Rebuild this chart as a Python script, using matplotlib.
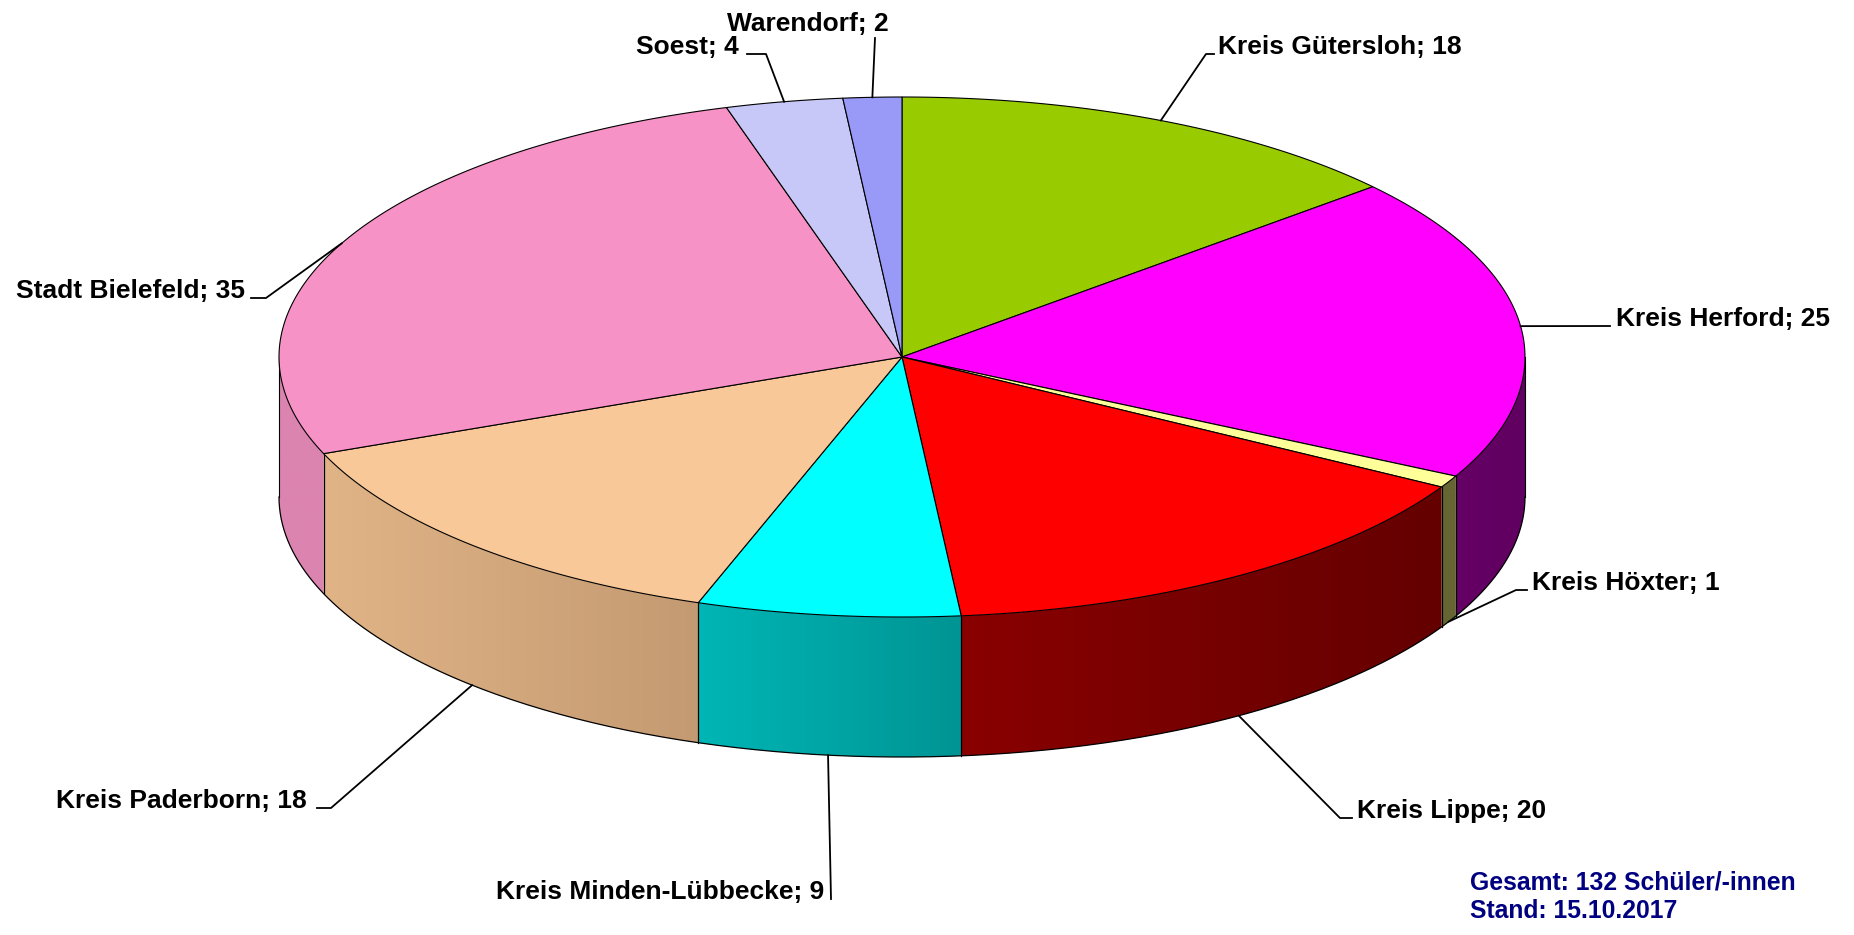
import numpy as np
import matplotlib.pyplot as plt
from matplotlib.patches import Polygon
from matplotlib.colors import to_rgb

plt.rcParams['font.family'] = ['Liberation Sans', 'DejaVu Sans']

# students per district (clockwise from 12 o'clock)
districts = ['Kreis Gütersloh', 'Kreis Herford', 'Kreis Höxter', 'Kreis Lippe',
             'Kreis Minden-Lübbecke', 'Kreis Paderborn', 'Stadt Bielefeld',
             'Soest', 'Warendorf']
students = [18, 25, 1, 20, 9, 18, 35, 4, 2]
note_lines = ['Gesamt: 132 Schüler/-innen', 'Stand: 15.10.2017']

top_colors = ['#99CC00', '#FF00FF', '#FFFF99', '#FF0000', '#00FFFF',
              '#F8C898', '#F792C6', '#C8C8F8', '#9999F8']
# wall shading: (left end, right end)
side_colors = [('#5C7A00', '#5C7A00'), ('#660066', '#600060'), ('#666633', '#666633'),
               ('#8A0000', '#640000'), ('#00B6B6', '#009494'), ('#E0B486', '#C49A72'),
               ('#DC84B0', '#DC84B0'), ('#8080A0', '#8080A0'), ('#6060A0', '#6060A0')]

# label layout: text anchor x, baseline y, ha, leader points after the anchor
labels = [
    (1218, 54, 'left', [(1206, 54), (1214, 54)]),
    (1616, 326, 'left', [(1610, 326)]),
    (1532, 590, 'left', [(1516, 590), (1527, 590)]),
    (1357, 818, 'left', [(1340, 818), (1352, 818)]),
    (824, 899, 'right', [(831, 899)]),
    (307, 808, 'right', [(331, 808), (317, 808)]),
    (245, 298, 'right', [(266, 298), (251, 298)]),
    (739, 54, 'right', [(766, 54), (747, 54)]),
    (889, 31, 'right', [(875, 38)]),
]

# pie geometry in pixels
cx, cy, a, b, depth = 902, 357, 623, 260, 140


def ell(t, dz=0):
    t = np.radians(t)
    return cx + a * np.sin(t), cy - b * np.cos(t) + dz


fig = plt.figure(figsize=(18.54, 9.35), dpi=100)
ax = fig.add_axes([0, 0, 1, 1])
ax.axis('off')

total = sum(students)
bounds = np.concatenate([[0], np.cumsum(students)]) / total * 360

# walls of the front half, gradient clipped to each wall piece
for i in range(len(students)):
    t1, t2 = max(bounds[i], 90), min(bounds[i + 1], 270)
    if t2 <= t1:
        continue
    t = np.linspace(t1, t2, 200)
    xs, ys = ell(t)
    pts = list(zip(xs, ys)) + list(zip(xs[::-1], ys[::-1] + depth))
    wall = Polygon(pts, closed=True, facecolor='none', edgecolor='none')
    ax.add_patch(wall)
    left, right = np.array(to_rgb(side_colors[i][0])), np.array(to_rgb(side_colors[i][1]))
    f = np.linspace(0, 1, 256)[None, :, None]
    img = left + (right - left) * f
    xl, xr = xs.min() - 2, xs.max() + 2
    img_art = ax.imshow(img, extent=(xl, xr, ys.max() + depth + 2, ys.min() - 2),
                        aspect='auto', interpolation='bilinear', zorder=1)
    img_art.set_clip_path(wall)
    for tt in (t1, t2):
        x, y = ell(tt)
        ax.plot([x, x], [y, y + depth], color='black', lw=0.8, zorder=2)

arc = np.linspace(90, 270, 300)
ax.plot(*ell(arc, depth), color='black', lw=0.9, zorder=2)

# top surface
for i in range(len(students)):
    t = np.linspace(bounds[i], bounds[i + 1], max(int(students[i] * 4), 4))
    xs, ys = ell(t)
    pts = [(cx, cy)] + list(zip(xs, ys))
    ax.add_patch(Polygon(pts, closed=True, facecolor=top_colors[i],
                         edgecolor='black', lw=0.8, zorder=3))

# labels with leader lines
for i, (tx, ty, ha, pts) in enumerate(labels):
    mid = (bounds[i] + bounds[i + 1]) / 2
    front = np.cos(np.radians(mid)) < 0
    ancx, ancy = ell(mid, depth if front else 0)
    xs = [ancx] + [p[0] for p in pts]
    ys = [ancy] + [p[1] for p in pts]
    ax.plot(xs, ys, color='black', lw=1.3, zorder=4)
    ax.text(tx, ty, f'{districts[i]}; {students[i]}', ha=ha, va='baseline',
            fontsize=19, fontweight='bold', color='black')

ax.text(1470, 889, note_lines[0], ha='left', va='baseline', fontsize=17.8,
        fontweight='bold', color='#000080')
ax.text(1470, 918, note_lines[1], ha='left', va='baseline', fontsize=17.8,
        fontweight='bold', color='#000080')

ax.set_xlim(0, 1854)
ax.set_ylim(935, 0)
fig.savefig('out.png', dpi=100)
